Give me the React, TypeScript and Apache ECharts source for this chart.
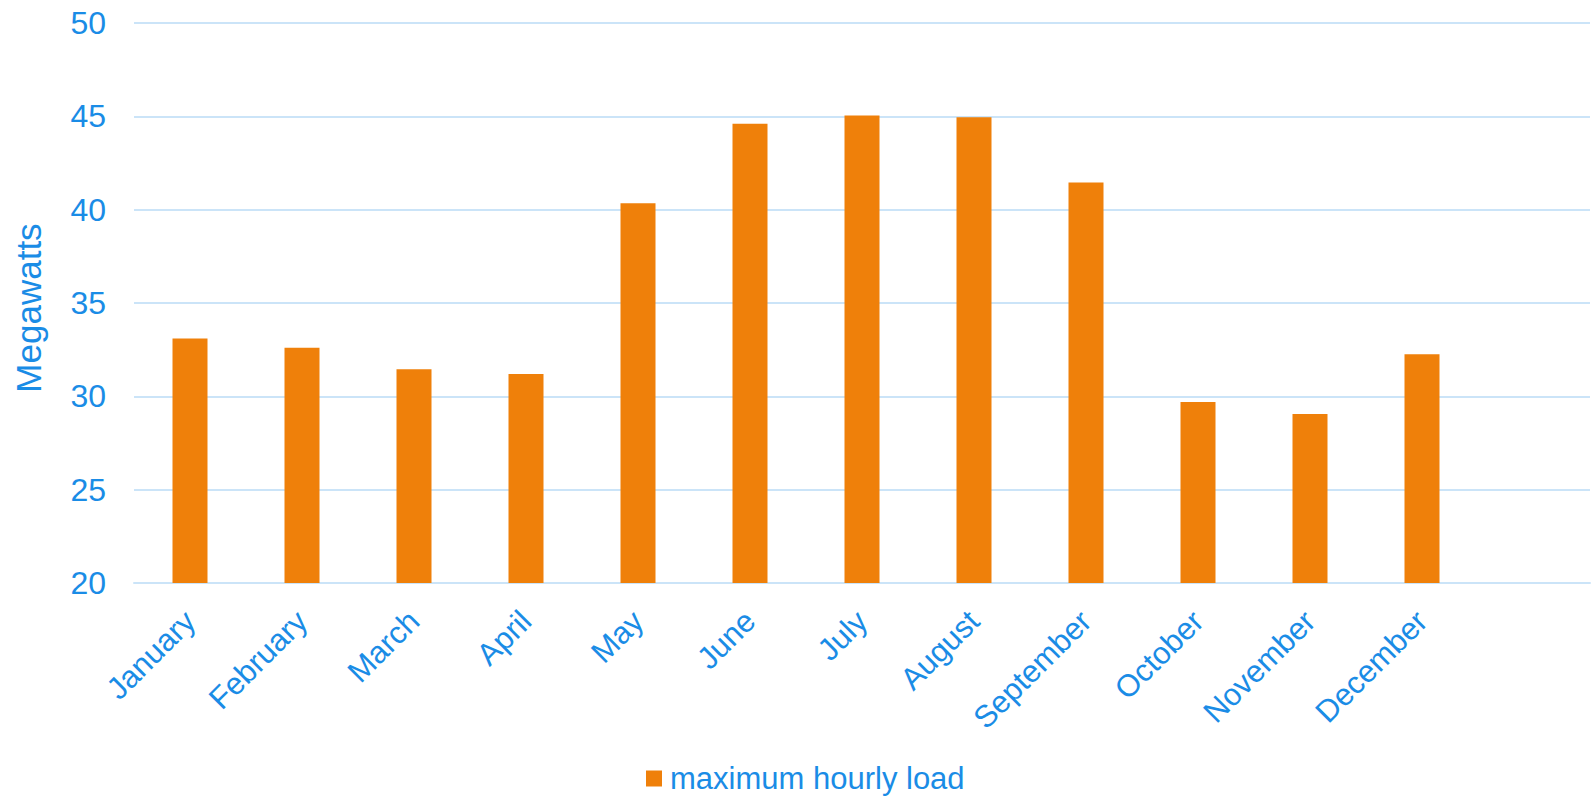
import React, { useEffect, useRef } from "react";
import * as echarts from "echarts";

// Monthly peak demand, in megawatts
const months = [
  "January", "February", "March", "April", "May", "June",
  "July", "August", "September", "October", "November", "December",
];
const maxHourlyLoad = [33.1, 32.6, 31.45, 31.2, 40.35, 44.6, 45.05, 44.95, 41.45, 29.7, 29.05, 32.25];
const seriesName = "maximum hourly load";
const yAxisTitle = "Megawatts";

const TEXT = "#1A8CE6";
const GRID = "#CBE4F8";
const BAR = "#EF800A";
const FONT = "'Liberation Sans', Arial, sans-serif";

export default function App() {
  const ref = useRef<HTMLDivElement>(null);

  useEffect(() => {
    if (!ref.current) return;
    const chart = echarts.init(ref.current, undefined, { renderer: "svg" });
    chart.setOption({
      animation: false,
      textStyle: { fontFamily: FONT },
      grid: { left: 134, right: 1, top: 23, bottom: 214, containLabel: false },
      legend: {
        data: [seriesName],
        left: 646,
        top: 763,
        padding: 0,
        icon: "rect",
        itemWidth: 16,
        itemHeight: 16,
        itemGap: 10,
        textStyle: { color: TEXT, fontSize: 31, fontFamily: FONT, padding: [0, 0, 0, 3], lineHeight: 28 },
      },
      xAxis: {
        type: "category",
        // one spare slot after December leaves room on the right
        data: [...months, ""],
        axisLine: { show: true, lineStyle: { color: GRID, width: 2 } },
        axisTick: { show: false },
        axisLabel: {
          color: TEXT,
          fontSize: 31,
          fontFamily: FONT,
          rotate: 45,
          margin: 33,
          interval: 0,
        },
      },
      yAxis: {
        type: "value",
        min: 20,
        max: 50,
        interval: 5,
        name: yAxisTitle,
        nameLocation: "middle",
        nameGap: 88,
        nameTextStyle: { color: TEXT, fontSize: 35, fontFamily: FONT, padding: [0, 10, 0, 0] },
        axisLine: { show: false },
        axisTick: { show: false },
        axisLabel: { color: TEXT, fontSize: 32, fontFamily: FONT, margin: 28 },
        splitLine: { lineStyle: { color: GRID, width: 2 } },
      },
      series: [
        {
          name: seriesName,
          type: "bar",
          data: maxHourlyLoad,
          barWidth: 35,
          itemStyle: { color: BAR },
        },
      ],
    });
    return () => chart.dispose();
  }, []);

  return (
    <div
      ref={ref}
      style={{ position: "fixed", left: 0, top: 0, width: 1591, height: 797, background: "#fff" }}
    />
  );
}
